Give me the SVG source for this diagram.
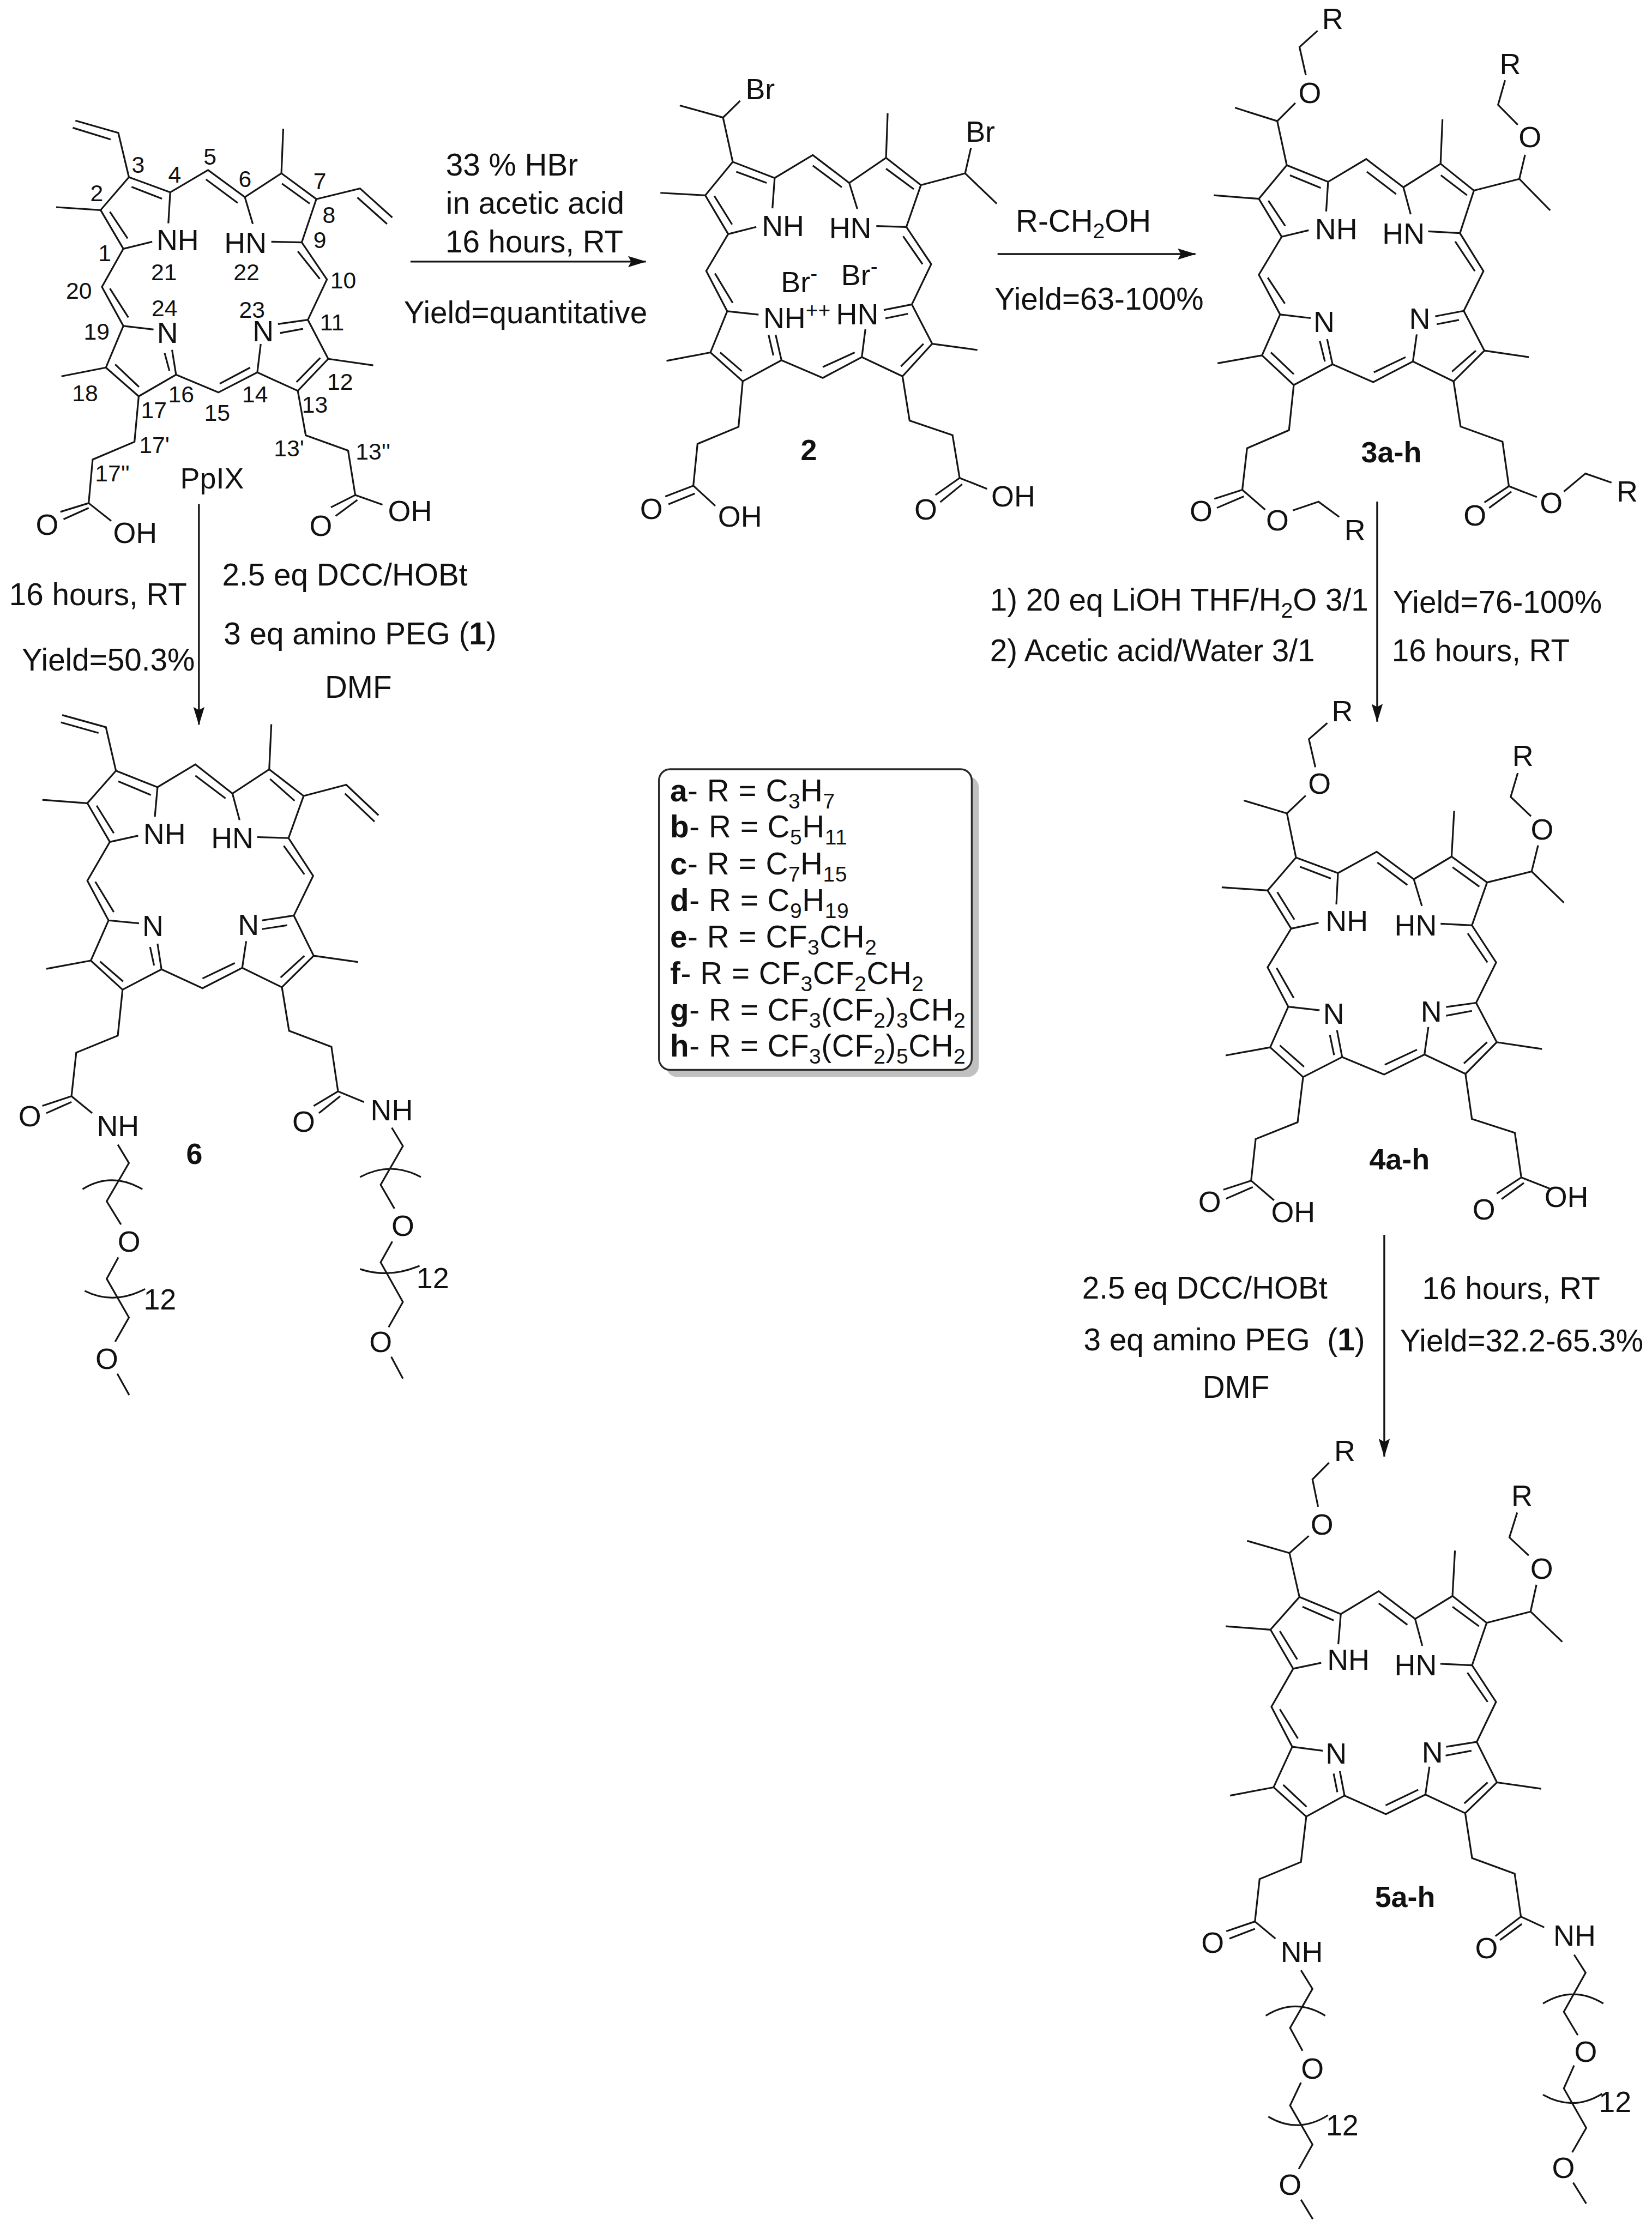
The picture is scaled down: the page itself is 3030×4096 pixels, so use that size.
<svg xmlns="http://www.w3.org/2000/svg" width="3030" height="4096" viewBox="0 0 3030 4096">
<style>
.b{fill:none;stroke:#151515;stroke-width:3.2;vector-effect:non-scaling-stroke}
.ar{fill:none;stroke:#151515;stroke-width:3.6}
text{font-family:"Liberation Sans",Arial,sans-serif;fill:#111}
.t{font-size:61px}
.a{font-size:58px;text-anchor:middle}
.n{font-size:46px;text-anchor:middle}
.c{font-size:58px;font-weight:bold;text-anchor:middle}
.r{font-size:61px;letter-spacing:.6px}
.w{font-weight:bold}
.s{font-size:42px}
</style>
<defs>
<marker id="ah" markerUnits="userSpaceOnUse" markerWidth="36" markerHeight="22" refX="35" refY="11" orient="auto"><path d="M0 0L36 11L0 22L6 11Z" fill="#111"/></marker>
</defs>
<rect width="3030" height="4096" fill="#fff"/>
<g transform="scale(.92831)">
<g id="connectors">
<path class="ar" d="M811 517H1276" marker-end="url(#ah)"/>
<path class="ar" d="M1971 502H2362" marker-end="url(#ah)"/>
<path class="ar" d="M393 996V1432" marker-end="url(#ah)"/>
<path class="ar" d="M2721 991V1426" marker-end="url(#ah)"/>
<path class="ar" d="M2735 2440V2878" marker-end="url(#ah)"/>
</g>
<g id="mol-ppix">
<path class="b" transform="translate(0 130) scale(.52301 .63776)" d="M285 170L447 208L487 345L643 392L786 323L925 407L1063 333L1195 413L1140 547L1235 662L1163 787L1240 908L1125 1007L972 950L825 1012L665 957L524 1024L400 935L466 806L385 685L466 567L380 447L487 345M275 192L418 228M380 447L212 438M497 375L612 412M415 452L482 535M636 488L643 392M466 567L575 545M778 352L898 425M1065 365L1170 427M925 407L955 490M1025 545L1140 547M1195 413L1360 380L1482 470M1350 408L1462 490M1125 575L1208 660M1163 787L1050 800M1058 828L1145 815M1210 905L1120 980M985 862L972 950M945 935L830 985M665 957L650 880M640 945L622 890M525 995L435 925M466 806L580 817M485 780L415 690M400 935L232 962M524 1024L508 1165L350 1220L335 1355L420 1410M335 1355L228 1382M240 1405L335 1370M1125 1007L1155 1145L1315 1192L1342 1330L1445 1360M1342 1330L1250 1368M1268 1395L1350 1345M1240 908L1410 928M1063 333L1070 195"/>
<text class="a" x="351" y="495">NH</text><text class="a" x="485" y="500">HN</text><text class="a" x="331" y="678">N</text><text class="a" x="520" y="674">N</text>
<text class="n" x="273" y="342">3</text><text class="n" x="191" y="398">2</text><text class="n" x="345" y="361">4</text><text class="n" x="415" y="325">5</text><text class="n" x="484" y="369">6</text><text class="n" x="632" y="374">7</text><text class="n" x="650" y="441">8</text><text class="n" x="632" y="490">9</text><text class="n" x="207" y="516">1</text><text class="n" x="324" y="554">21</text><text class="n" x="487" y="554">22</text><text class="n" x="156" y="590">20</text><text class="n" x="678" y="570">10</text><text class="n" x="325" y="625">24</text><text class="n" x="498" y="628">23</text><text class="n" x="191" y="671">19</text><text class="n" x="656" y="653">11</text><text class="n" x="168" y="793">18</text><text class="n" x="672" y="770">12</text><text class="n" x="358" y="795">16</text><text class="n" x="504" y="795">14</text><text class="n" x="304" y="826">17</text><text class="n" x="622" y="816">13</text><text class="n" x="429" y="832">15</text><text class="n" x="305" y="895">17'</text><text class="n" x="571" y="902">13'</text><text class="n" x="222" y="951">17''</text><text class="n" x="737" y="908">13''</text>
<text class="a" x="419" y="965">PpIX</text>
<text class="a" x="93" y="1057">O</text><text class="a" x="267" y="1073">OH</text><text class="a" x="634" y="1059">O</text><text class="a" x="810" y="1030">OH</text>
</g>
<g id="mol-2">
<path class="b" transform="translate(1220 130) scale(.63776 .61237)" d="M193 128L327 167L380 113M327 167L357 310L487 362L605 288L718 378L832 297L940 385L895 520L972 640L912 770L975 897L883 1002L757 940L636 1007L508 950L388 1018L288 925L340 792L275 662L343 543L272 418L357 310M368 342L462 378M272 418L133 410M300 420L355 512M487 362L480 460M343 543L430 520M605 322L695 392M832 297L837 153M832 332L918 398M718 378L743 462M940 385L1077 347L1095 265M1077 347L1175 445M895 520L802 517M885 550L945 640M912 770L825 788M830 815L900 800M975 897L1115 917M948 897L878 970M757 940L768 850M735 925L636 972M508 950L490 868M483 935L468 868M385 985L318 925M288 925L152 952M340 792L437 803M357 765L302 670M388 1018L375 1165L248 1220L235 1355L303 1420M235 1355L148 1390M158 1415L240 1380M883 1002L905 1145L1038 1192L1060 1330L1145 1365M1060 1330L985 1385M1000 1408L1068 1350"/>
<text class="a" x="1502" y="196">Br</text><text class="a" x="1937" y="280">Br</text><text class="a" x="1547" y="466">NH</text><text class="a" x="1680" y="471">HN</text>
<text class="t" style="font-size:58px" x="1543" y="577">Br<tspan class="s" dy="-22">-</tspan></text>
<text class="t" style="font-size:58px" x="1662" y="563">Br<tspan class="s" dy="-22">-</tspan></text>
<text class="t" style="font-size:58px" x="1508" y="649">NH<tspan class="s" dy="-22">++</tspan></text>
<text class="t" style="font-size:58px" x="1652" y="641">HN</text>
<text class="c" x="1598" y="909">2</text>
<text class="a" x="1287" y="1025">O</text><text class="a" x="1462" y="1041">OH</text><text class="a" x="1829" y="1027">O</text><text class="a" x="2002" y="1001">OH</text>
</g>
<g id="mol-3">
<path class="b" transform="translate(2280 0) scale(.62775 .71429)" d="M515 85L458 130L478 208M445 285L388 335L255 298M388 335L418 457L548 503L668 440L785 518L902 453L1007 527L963 645L1037 750L975 860L1040 970L943 1055L815 1000L690 1057L562 1008L440 1065L340 983L397 870L330 760L402 655L330 550L418 457M428 485L525 520M330 550L188 540M360 555L413 625M548 503L542 585M402 655L487 637M670 475L762 537M902 453L908 330M903 485L985 540M785 518L808 593M1007 527L1150 495L1168 428M1145 345L1083 290L1105 222M1150 495L1247 582M963 645L863 640M948 668L1010 750M975 860L885 875M890 897L960 885M1040 970L1180 988M1013 970L938 1028M815 1000L827 925M792 988L692 1030M562 1008L545 938M538 1000L522 943M440 1035L368 975M340 983L200 1005M397 870L493 880M412 840L358 768M440 1065L425 1190L293 1240L278 1355L350 1410M278 1355L190 1380M198 1405L283 1373M437 1412L518 1388L583 1430M943 1055L965 1180L1097 1222L1117 1345L1205 1375M1117 1345L1040 1390M1055 1405L1125 1360M1290 1360L1358 1310L1440 1335"/>
<text class="a" x="2633" y="57">R</text><text class="a" x="2588" y="204">O</text><text class="a" x="2984" y="146">R</text><text class="a" x="3023" y="291">O</text><text class="a" x="2640" y="473">NH</text><text class="a" x="2773" y="482">HN</text><text class="a" x="2616" y="656">N</text><text class="a" x="2805" y="650">N</text>
<text class="c" x="2749" y="914">3a-h</text>
<text class="a" x="2373" y="1030">O</text><text class="a" x="2524" y="1048">O</text><text class="a" x="2677" y="1068">R</text><text class="a" x="2914" y="1039">O</text><text class="a" x="3065" y="1014">O</text><text class="a" x="3215" y="991">R</text>
</g>
<g id="mol-4">
<path class="b" transform="translate(2280 1280) scale(.63776)" d="M537 233L480 283L500 370M470 458L412 513L278 473M412 513L440 650L570 698L690 632L805 717L922 647L1032 727L985 860L1060 975L998 1100L1062 1222L965 1320L838 1260L713 1322L583 1268L462 1330L360 1238L416 1112L352 990L425 870L352 752L440 650M452 678L548 715M352 752L210 742M382 757L435 842M570 698L565 795M425 870L510 852M692 665L785 735M922 647L930 505M925 680L1008 740M805 717L830 800M1032 727L1170 693L1190 612M1168 522L1105 462L1127 388M1170 693L1270 790M985 860L888 855M972 885L1033 975M998 1100L905 1113M905 1140L985 1125M1062 1222L1202 1243M1032 1222L960 1288M838 1260L850 1175M815 1245L715 1292M583 1268L567 1185M558 1262L545 1200M465 1298L390 1232M360 1238L222 1263M416 1112L513 1123M433 1085L380 992M462 1330L445 1470L315 1522L301 1651L372 1712M301 1651L215 1679M223 1707L306 1671M965 1320L985 1460L1118 1503L1138 1641L1225 1675M1138 1641L1062 1691M1077 1708L1146 1658"/>
<text class="a" x="2652" y="1425">R</text><text class="a" x="2607" y="1568">O</text><text class="a" x="3009" y="1513">R</text><text class="a" x="3047" y="1659">O</text><text class="a" x="2661" y="1840">NH</text><text class="a" x="2797" y="1848">HN</text><text class="a" x="2635" y="2023">N</text><text class="a" x="2828" y="2019">N</text>
<text class="c" x="2765" y="2311">4a-h</text>
<text class="a" x="2390" y="2395">O</text><text class="a" x="2555" y="2415">OH</text><text class="a" x="2932" y="2410">O</text><text class="a" x="3095" y="2385">OH</text>
</g>
<g id="mol-5">
<path class="b" transform="translate(2300 2900) scale(.61463 .96432)" d="M530 -10L477 24L495 80M465 140L403 175L267 150M403 175L435 265L568 300L690 253L807 310L927 263L1037 318L990 405L1067 480L1005 562L1070 645L968 708L840 670L713 710L580 672L457 715L352 655L412 572L345 490L415 412L342 332L435 265M445 285L545 313M342 332L198 325M372 335L428 393M568 300L560 362M415 412L505 400M690 278L782 322M927 263L935 170M927 285L1012 325M807 310L830 365M1037 318L1178 295L1197 240M1172 180L1110 143L1135 92M1178 295L1280 357M990 405L888 402M975 420L1040 480M1005 562L907 572M905 590L988 580M1070 645L1212 658M1040 645L965 688M840 670L853 613M817 660L712 692M580 672L565 622M557 665L545 627M458 695L383 650M352 655L212 672M412 572L510 580M430 555L372 495M457 715L440 808L307 843L292 930L358 965M292 930L200 950M210 965L292 945M440 1030L477 1068L405 1148L445 1195M440 1260L405 1307L477 1387L433 1437M440 1500L478 1540M327 1123Q422 1085 518 1123M335 1330Q430 1366 527 1327M968 708L990 800L1127 832L1147 920L1222 942M1147 920L1065 960M1080 968L1150 935M1318 998L1355 1035L1285 1115L1330 1163M1318 1225L1285 1272L1357 1353L1312 1403M1315 1465L1357 1508M1218 1098Q1315 1060 1412 1098M1218 1285Q1315 1320 1408 1283"/>
<text class="a" x="2657" y="2887">R</text><text class="a" x="2612" y="3032">O</text><text class="a" x="3007" y="2975">R</text><text class="a" x="3046" y="3120">O</text><text class="a" x="2664" y="3300">NH</text><text class="a" x="2797" y="3310">HN</text><text class="a" x="2640" y="3485">N</text><text class="a" x="2830" y="3483">N</text>
<text class="c" x="2776" y="3768">5a-h</text>
<text class="a" x="2396" y="3859">O</text><text class="a" x="2572" y="3877">NH</text><text class="a" x="2593" y="4107">O</text><text class="a" x="2549" y="4337">O</text><text class="a" x="2652" y="4219">12</text><text class="a" x="2937" y="3869">O</text><text class="a" x="3111" y="3845">NH</text><text class="a" x="3133" y="4074">O</text><text class="a" x="3089" y="4304">O</text><text class="a" x="3191" y="4173">12</text>
</g>
<g id="mol-6">
<path class="b" transform="translate(0 1300) scale(.52301 .95694)" d="M235 118L400 143L438 233L595 267L738 220L878 280L1017 230L1147 285L1090 372L1183 450L1110 532L1185 615L1065 680L915 640L765 682L610 643L463 685L343 625L410 542L330 460L415 380L330 300L438 233M230 133L372 155M447 255L570 283M330 300L160 293M365 305L430 362M595 267L585 328M415 380L522 367M738 243L852 290M1017 230L1025 137M1020 250L1113 295M878 280L905 335M1147 285L1308 262L1430 325M1303 280L1415 338M1090 372L972 370M1072 388L1150 447M1110 532L990 542M990 560L1085 552M1185 615L1352 628M1150 615L1060 660M915 640L930 585M887 630L765 662M610 643L595 590M582 635L567 597M465 668L378 627M343 625L175 642M410 542L525 548M430 525L360 462M463 685L445 780L288 815L270 905L348 940M270 905L160 925M175 940L270 917M445 1005L487 1043L403 1122L457 1170M447 1238L403 1282L487 1362L435 1412M443 1478L488 1522M312 1097Q420 1060 538 1097M320 1307Q430 1337 548 1303M1065 680L1092 770L1252 803L1277 895L1375 917M1277 895L1185 925M1205 940L1285 905M1480 970L1522 1008L1438 1088L1490 1137M1482 1205L1438 1248L1522 1330L1468 1382M1478 1443L1522 1488M1360 1072Q1475 1038 1590 1072M1360 1262Q1470 1282 1585 1255"/>
<text class="a" x="325" y="1668">NH</text><text class="a" x="459" y="1676">HN</text><text class="a" x="302" y="1850">N</text><text class="a" x="491" y="1847">N</text>
<text class="a" x="59" y="2226">O</text><text class="a" x="233" y="2245">NH</text><text class="c" x="384" y="2300">6</text><text class="a" x="255" y="2473">O</text><text class="a" x="211" y="2705">O</text><text class="a" x="316" y="2587">12</text><text class="a" x="600" y="2236">O</text><text class="a" x="774" y="2214">NH</text><text class="a" x="796" y="2442">O</text><text class="a" x="752" y="2671">O</text><text class="a" x="855" y="2545">12</text>
</g>
<g id="legend">
<rect x="1316" y="1534" width="618" height="594" rx="22" fill="#c0c0c0"/>
<rect x="1302" y="1520" width="618" height="594" rx="22" fill="#fff" stroke="#2a2a2a" stroke-width="3.6"/>
<text class="r" x="1324" y="1584"><tspan class="w">a</tspan>- R = C<tspan class="s" dy="14">3</tspan><tspan dy="-14">H</tspan><tspan class="s" dy="14">7</tspan></text>
<text class="r" x="1324" y="1655"><tspan class="w">b</tspan>- R = C<tspan class="s" dy="14">5</tspan><tspan dy="-14">H</tspan><tspan class="s" dy="14">11</tspan></text>
<text class="r" x="1324" y="1728"><tspan class="w">c</tspan>- R = C<tspan class="s" dy="14">7</tspan><tspan dy="-14">H</tspan><tspan class="s" dy="14">15</tspan></text>
<text class="r" x="1324" y="1800"><tspan class="w">d</tspan>- R = C<tspan class="s" dy="14">9</tspan><tspan dy="-14">H</tspan><tspan class="s" dy="14">19</tspan></text>
<text class="r" x="1324" y="1872"><tspan class="w">e</tspan>- R = CF<tspan class="s" dy="14">3</tspan><tspan dy="-14">CH</tspan><tspan class="s" dy="14">2</tspan></text>
<text class="r" x="1324" y="1944"><tspan class="w">f</tspan>- R = CF<tspan class="s" dy="14">3</tspan><tspan dy="-14">CF</tspan><tspan class="s" dy="14">2</tspan><tspan dy="-14">CH</tspan><tspan class="s" dy="14">2</tspan></text>
<text class="r" x="1324" y="2017"><tspan class="w">g</tspan>- R = CF<tspan class="s" dy="14">3</tspan><tspan dy="-14">(CF</tspan><tspan class="s" dy="14">2</tspan><tspan dy="-14">)</tspan><tspan class="s" dy="14">3</tspan><tspan dy="-14">CH</tspan><tspan class="s" dy="14">2</tspan></text>
<text class="r" x="1324" y="2088"><tspan class="w">h</tspan>- R = CF<tspan class="s" dy="14">3</tspan><tspan dy="-14">(CF</tspan><tspan class="s" dy="14">2</tspan><tspan dy="-14">)</tspan><tspan class="s" dy="14">5</tspan><tspan dy="-14">CH</tspan><tspan class="s" dy="14">2</tspan></text>
</g>
<g id="conditions">
<text class="t" x="881" y="347">33 % HBr</text>
<text class="t" x="881" y="422">in acetic acid</text>
<text class="t" x="880" y="499">16 hours, RT</text>
<text class="t" x="798" y="639">Yield=quantitative</text>
<text class="t" x="2007" y="458">R-CH<tspan class="s" dy="13">2</tspan><tspan dy="-13">OH</tspan></text>
<text class="t" x="1965" y="612">Yield=63-100%</text>
<text class="t" x="18" y="1196">16 hours, RT</text>
<text class="t" x="43" y="1325">Yield=50.3%</text>
<text class="t" x="439" y="1157">2.5 eq DCC/HOBt</text>
<text class="t" x="442" y="1273">3 eq amino PEG (<tspan class="w">1</tspan>)</text>
<text class="t" x="642" y="1379">DMF</text>
<text class="t" x="1956" y="1207">1) 20 eq LiOH THF/H<tspan class="s" dy="13">2</tspan><tspan dy="-13">O 3/1</tspan></text>
<text class="t" x="1956" y="1307">2) Acetic acid/Water 3/1</text>
<text class="t" x="2752" y="1211">Yield=76-100%</text>
<text class="t" x="2750" y="1307">16 hours, RT</text>
<text class="t" x="2138" y="2566">2.5 eq DCC/HOBt</text>
<text class="t" x="2141" y="2668">3 eq amino PEG&#160; (<tspan class="w">1</tspan>)</text>
<text class="t" x="2376" y="2762">DMF</text>
<text class="t" x="2810" y="2567">16 hours, RT</text>
<text class="t" x="2766" y="2670">Yield=32.2-65.3%</text>
</g>
</g>
</svg>
